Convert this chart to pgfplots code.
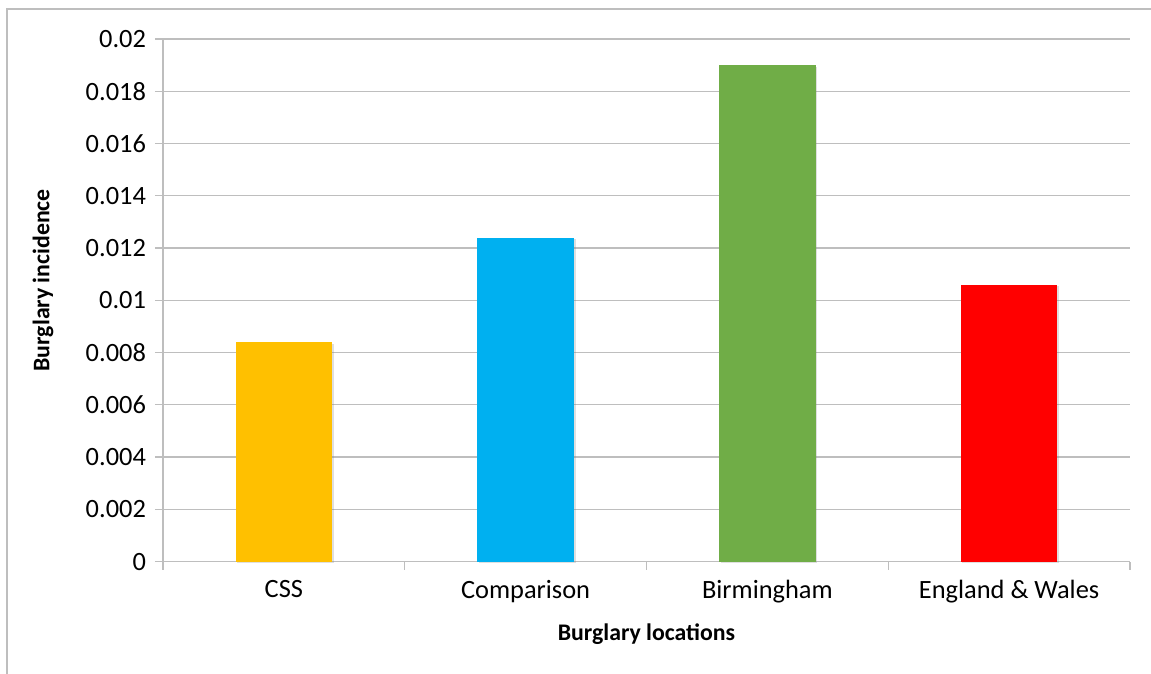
\documentclass[border=0pt]{standalone}
\usepackage{pgfplots}
\pgfplotsset{compat=1.18}
\usepackage{fontspec}
\setmainfont{Carlito}
\usetikzlibrary{shadows}
\definecolor{gridgray}{RGB}{190,190,190}
\definecolor{cyel}{RGB}{255,192,0}
\definecolor{cblue}{RGB}{0,176,240}
\definecolor{cgreen}{RGB}{112,173,71}
\definecolor{cred}{RGB}{255,0,0}
\begin{document}
\begin{tikzpicture}[x=1pt,y=1pt]
\useasboundingbox (0,0) rectangle (575.5,337);
\draw[gridgray,line width=0.6pt] (3.5,0) -- (3.5,332.5) -- (580,332.5);
\begin{axis}[
  at={(81.5pt,56.2pt)}, anchor=south west,
  scale only axis, width=483.5pt, height=261.3pt,
  xmin=-0.5, xmax=3.5, ymin=0, ymax=0.02,
  axis x line*=bottom, axis y line*=left,
  axis line style={gridgray, line width=0.6pt},
  xtick={0,1,2,3},
  xticklabels={CSS,Comparison,Birmingham,England \& Wales},
  major x tick style={draw=none},
  minor xtick={-0.5,0.5,1.5,2.5,3.5},
  minor x tick style={gridgray, line width=0.6pt},
  minor tick length=4pt,
  ytick={0,0.002,...,0.0201},
  major tick length=4pt,
  tick align=outside,
  y tick style={gridgray, line width=0.6pt},
  ymajorgrids, grid style={gridgray, line width=0.6pt},
  scaled y ticks=false,
  yticklabel style={/pgf/number format/fixed, /pgf/number format/precision=3, /pgf/number format/assume math mode=true, font=\fontsize{13.2}{15}\selectfont, xshift=-1pt},
  xticklabel style={font=\fontsize{13.2}{15}\selectfont, yshift=-2pt},
  xlabel={\textbf{Burglary locations}},
  ylabel={\textbf{Burglary incidence}},
  label style={font=\fontsize{11.9}{14}\selectfont},
  xlabel style={at={(axis description cs:0.5,0)}, anchor=center, yshift=-36.5pt},
  ylabel style={at={(axis description cs:0,0.5)}, anchor=center, yshift=60pt, xshift=10pt},
  bar width=0.4, ybar, bar shift=0pt,
  every axis plot/.append style={drop shadow={shadow xshift=0.8pt, shadow yshift=-0.8pt, opacity=0.25}},
  clip=false,
]
\addplot[fill=cyel, draw=none] coordinates {(0,0.0084)};
\addplot[fill=cblue, draw=none] coordinates {(1,0.0124)};
\addplot[fill=cgreen, draw=none] coordinates {(2,0.0190)};
\addplot[fill=cred, draw=none] coordinates {(3,0.0106)};
\end{axis}
\end{tikzpicture}
\end{document}
